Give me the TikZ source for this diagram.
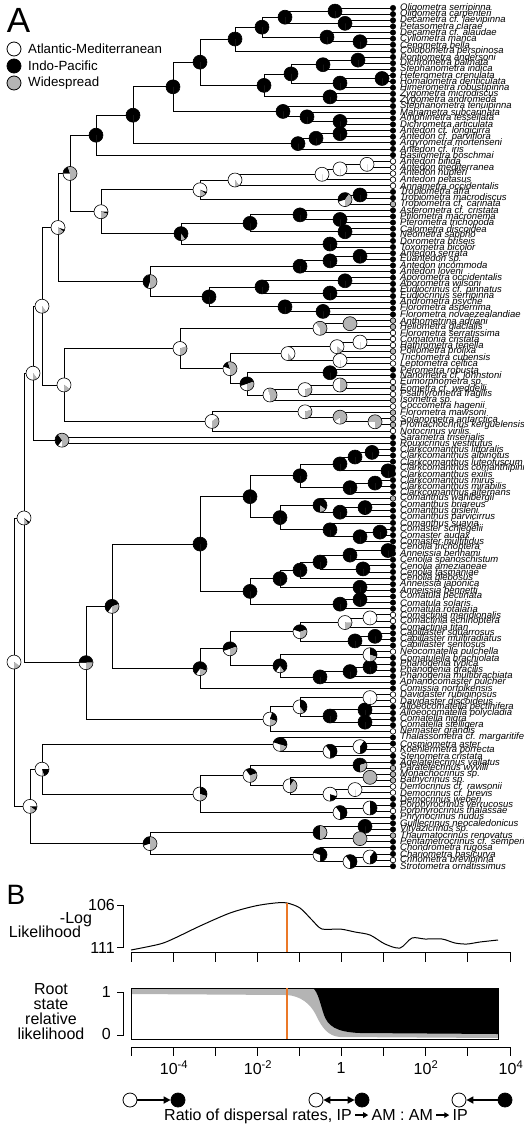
\documentclass[tikz,border=0pt]{standalone}
\usepackage{fontspec}
\setmainfont{Liberation Sans}
\usetikzlibrary{arrows.meta}

\definecolor{wscol}{RGB}{180,180,180}
\definecolor{orangeline}{RGB}{235,120,40}

% y of tip number #1 (fractional numbers give y between tips)
\pgfmathdeclarefunction{ty}{1}{\pgfmathparse{8+6.13*(#1-1)}}

% pie at a node: #1 node, #2 white %, #3 black %, rest grey
\newcommand{\nodepie}[3]{%
  \pgfmathsetmacro{\angA}{90+3.6*#2}%
  \pgfmathsetmacro{\angB}{\angA+3.6*#3}%
  \fill[white] (#1) -- ++(90:7) arc[start angle=90, end angle=\angA, radius=7] -- cycle;
  \fill[black] (#1) -- ++(\angA:7) arc[start angle=\angA, end angle=\angB, radius=7] -- cycle;
  \fill[wscol] (#1) -- ++(\angB:7) arc[start angle=\angB, end angle=450, radius=7] -- cycle;
  \draw[line width=0.6pt] (#1) circle[radius=7];
}
\newcommand{\rarr}{\tikz[baseline=-0.6ex]\draw[line width=1.4pt,-{Triangle[length=5pt,width=5.5pt]}] (0pt,0pt) -- (13pt,0pt);}

\tikzset{
  branch/.style={line width=0.8pt},
  tipdot/.style={circle, draw, line width=0.5pt, inner sep=0pt, minimum size=5.5pt},
  taxon/.style={anchor=west, inner sep=0pt, font=\fontsize{9.5}{9.5}\selectfont\itshape},
  legtext/.style={anchor=west, inner sep=0pt, font=\fontsize{13.3}{14}\selectfont},
  axtext/.style={inner sep=0pt, font=\fontsize{16}{15}\selectfont},
  statedot/.style={circle, draw, line width=0.8pt, inner sep=0pt, minimum size=14pt},
  bigarrow/.style={line width=1.6pt},
}

\begin{document}
\begin{tikzpicture}[x=1pt, y=-1pt]
\useasboundingbox (0,0) rectangle (523,1125);

% ---------- panel A: taxa
\foreach \sp [count=\i] in {Oligometra serripinna, Oligometra carpenteri, Decametra cf. laevipinna,
  Petasometra clarae, Decametra cf. alaudae, Cyllometra manca, Cenometra bella,
  Colobometra perspinosa, Pontiometra andersoni, Dichrometra palmata, Stephanometra indica,
  Heterometra crenulata, Homalometra denticulata, Himerometra robustipinna, Zygometra microdiscus,
  Zygometra andromeda, Stephanometra tenuipinna, Mariametra subcarinata, Amphimetra tessellata,
  Dichrometra articulata, Antedon cf. longicirra, Antedon cf. parviflora, Argyrometra mortenseni,
  Antedon cf. iris, Basilometra boschmai, Antedon bifida, Antedon mediterranea, Antedon hupferi,
  Antedon petasus, Annametra occidentalis, Tropiometra afra, Tropiometra macrodiscus,
  Tropiometra cf. carinata, Asterometra cf. cristata, Ptilometra macronema, Pterometra trichopoda,
  Calometra discoidea, Neometra sappho, Dorometra briseis, Toxometra bicolor, Antedon serrata,
  Euantedon sp., Antedon incommoda, Antedon loveni, Aporometra occidentalis, Aporometra wilsoni,
  Eudiocrinus cf. pinnatus, Eudiocrinus serripinna, Andrometra psyche, Florometra asperrima,
  Florometra novaezealandiae, Anthometrina adriani, Heliometra glacialis, Florometra serratissima,
  Comatonia cristata, Hathrometra tenella, Poliometra prolixa, Trichometra cubensis,
  Leptometra celtica, Perometra robusta, Nanometra cf. johnstoni, Eumorphometra sp.,
  Eometra cf. weddelli, Psathyrometra fragilis, Isometra sp., Coccometra hagenii,
  Florometra mawsoni, Solanometra antarctica, Promachocrinus kerguelensis, Notocrinus virilis,
  Sarametra triserialis, Rouxicrinus vestitutus, Clarkcomanthus littoralis,
  Clarkcomanthus albinotus, Clarkcomanthus luteofuscum, Clarkcomanthus comanthipinna,
  Clarkcomanthus exilis, Clarkcomanthus mirus, Clarkcomanthus mirabilis, Clarkcomanthus alternans,
  Comanthus wahlbergii, Comanthus briareus, Comanthus gisleni, Comanthus parvicirrus,
  Comanthus suavia, Comaster schlegelii, Comaster audax, Comaster multifidus, Cenolia trichoptera,
  Anneissia benhami, Cenolia spanoschistum, Cenolia amezianeae, Cenolia tasmaniae, Cenolia glebosus,
  Anneissia japonica, Anneissia bennetti, Comatula pectinata, Comatula solaris, Comatula rotalaria,
  Comactinia meridionalis, Comactinia echinoptera, Comactinia titan, Capillaster squarrosus,
  Capillaster multiradiatus, Capillaster sentosus, Neocomatella pulchella, Comatulella brachiolata,
  Phanogenia typica, Phanogenia gracilis, Phanogenia multibrachiata, Aphanocomaster pulcher,
  Comissia norfolkensis, Davidaster rubiginosus, Davidaster discoideus, Alloeocomatella pectinifera,
  Alloeocomatella polycladia, Comatella nigra, Comatella stelligera, Nemaster grandis,
  Thalassometra cf. margaritifera, Cosmiometra aster, Koehlermetra porrecta, Stenometra cristata,
  Adelatelecrinus vallatus, Paratelecrinus wyvilli, Monachocrinus sp., Bathycrinus sp.,
  Democrinus cf. rawsonii, Democrinus cf. brevis, Democrinus weberi, Porphyrocrinus verrucosus,
  Porphyrocrinus thalassae, Phrynocrinus nudus, Guillecrinus neocaledonicus, Vityazicrinus sp.,
  Thaumatocrinus renovatus, Pentametrocrinus cf. semperi, Chondrometra rugosa,
  Chariometra basicurva, Crinometra brevipinna, Strotometra ornatissimus}
{
  \coordinate (t\i) at (393,{ty(\i)});
  \node[taxon] (lab\i) at (400,{ty(\i)}) {\sp};
}

% ---------- internal nodes (x, tip number)
\foreach \n/\x/\k in {a1/335/1.5, a3/345/3.5, a2/285/2.5, a5/360/6.5, a4/327/5.75, a6/262/4.125,
  a7/235/6.06, b1/358/9.5, b2/382/12.5, b3/323/10.25, b5/340/13.25, b4/291/11.75,
  c1/330/15.5, b6/264/13.625, X/200/9.84, c2/340/19.5, c3/307/18.75, c4/283/17.875,
  Y/173/13.86, d1/340/21.5, d2/316/22.25, d3/298/23.125, Z/133/18.49, top/96/21.75,
  f1/367/26.5, f2/340/27.25, f3/322/28.125, f4/235/29.06, g1/360/31.5, g2/345/32.25,
  h/200/30.656, i1/340/35.5, i2/300/34.75, i3/345/37.5, i4/250/36.125, j1/330/39.5,
  i5/181/37.81, k/101/34.234,
  l1/360/41.5, l2/330/42.25, l3/300/43.125, m1/345/45.5, m2/330/47.5, m3/262/46.5,
  nn1/323/50.5, nn2/285/49.75, o1/209/48.125, o2/150/45.625,
  p1/350/52.5, p2/320/53.25, q1/360/55.5, q2/337/56.25, q3/340/58.5, q4/288/57.375,
  r1/330/60.5, s1/340/62.5, s2/305/63.25, s3/270/64.125, r2/247/62.31, q5/230/59.84,
  p3/180/56.545, u1/375/68.5, u2/340/67.75, u3/305/66.875, u4/212/68.44, w/62/71.5,
  B1/70/27.99, B2/58/36.81, B4/64/62.49, B3/42/49.65, B5/33/60.575,
  x1/372/73.5, x3/355/74.25, x2/388/76.5, x4/340/75.375, x5/375/78.5, x6/350/79.25,
  x7/300/77.31, y1/365/82.5, y2/340/83.25, y3/320/82.125, y4/380/86.5, y5/360/87.25,
  y6/330/86.125, y7/280/84.125, y8/250/80.72, z1/388/89.5, z2/363/92.5, z3/350/90.25,
  z4/320/91.375, z4b/300/92.69, z5/360/95.5, cc1/360/97.5, cc2/340/98.25, z6/280/94.09,
  z7/250/96.17, y9/200/88.445,
  aa1/370/100.5, aa2/345/101.25, ab1/375/103.5, ab2/355/104.25, ab3/300/102.75,
  ac1/370/106.5, ad1/370/108.5, ad2/350/109.25, ad3/320/110.125, ae/280/108.31,
  af/230/105.53, ag/200/108.77, ah1/370/113.5, ah2/365/115.5, ah3/365/117.5, ah4/330/116.5,
  ah5/300/115, ah6/270/117, aj2/112/98.61, aj/86/107.8,
  ak1/360/121.5, ak2/330/122.25, ak3/280/121.125, al5/360/124.5, al3/370/126.5,
  al1/355/128.5, al2/330/129.25, al4/290/127.875, al6/250/126.19, am1/370/131.5,
  am2/340/132.25, L1/200/129.22, an1/365/134.5, an2/360/136.5, an3/320/135.5,
  ao1/370/139.5, ao2/350/140.25, ao3/320/139.125, L2/150/137.31, L5/42/125.17,
  L6/30/131.24, A1/24/84.19, root/14/107.7}
  \coordinate (\n) at (\x,{ty(\k)});

% branches
\foreach \p/\c in {a1/t1, a1/t2, a3/t3, a3/t4, a2/a1, a2/a3, a5/t6, a5/t7, a4/t5, a4/a5,
  a6/a2, a6/a4, a7/a6, a7/t8, b1/t9, b1/t10, b2/t12, b2/t13, b3/b1, b3/t11, b5/b2, b5/t14,
  b4/b3, b4/b5, c1/t15, c1/t16, b6/b4, b6/c1, X/a7, X/b6, c2/t19, c2/t20, c3/t18, c3/c2,
  c4/t17, c4/c3, Y/X, Y/c4, d1/t21, d1/t22, d2/d1, d2/t23, d3/d2, d3/t24, Z/Y, Z/d3,
  top/Z, top/t25,
  f1/t26, f1/t27, f2/f1, f2/t28, f3/f2, f3/t29, f4/f3, f4/t30, g1/t31, g1/t32, g2/g1, g2/t33,
  h/f4, h/g2, i1/t35, i1/t36, i2/t34, i2/i1, i3/t37, i3/t38, i4/i2, i4/i3, j1/t39, j1/t40,
  i5/i4, i5/j1, k/h, k/i5,
  l1/t41, l1/t42, l2/l1, l2/t43, l3/l2, l3/t44, m1/t45, m1/t46, m2/t47, m2/t48, m3/m1, m3/m2,
  nn1/t50, nn1/t51, nn2/t49, nn2/nn1, o1/m3, o1/nn2, o2/l3, o2/o1,
  p1/t52, p1/t53, p2/p1, p2/t54, q1/t55, q1/t56, q2/q1, q2/t57, q3/t58, q3/t59, q4/q2, q4/q3,
  r1/t60, r1/t61, s1/t62, s1/t63, s2/s1, s2/t64, s3/s2, s3/t65, r2/r1, r2/s3, q5/q4, q5/r2,
  p3/p2, p3/q5, u1/t68, u1/t69, u2/t67, u2/u1, u3/t66, u3/u2, u4/u3, u4/t70, w/t71, w/t72,
  B1/top, B1/k, B2/B1, B2/o2, B4/p3, B4/u4, B3/B2, B3/B4, B5/B3, B5/w,
  x1/t73, x1/t74, x3/x1, x3/t75, x2/t76, x2/t77, x4/x3, x4/x2, x5/t78, x5/t79, x6/x5, x6/t80,
  x7/x4, x7/x6, y1/t82, y1/t83, y2/y1, y2/t84, y3/t81, y3/y2, y4/t86, y4/t87, y5/y4, y5/t88,
  y6/t85, y6/y5, y7/y3, y7/y6, y8/x7, y8/y7, z1/t89, z1/t90, z2/t92, z2/t93, z3/z1, z3/t91,
  z4/z3, z4/z2, z4b/z4, z4b/t94, z5/t95, z5/t96, cc1/t97, cc1/t98, cc2/cc1, cc2/t99,
  z6/z4b, z6/z5, z7/z6, z7/cc2, y9/y8, y9/z7,
  aa1/t100, aa1/t101, aa2/aa1, aa2/t102, ab1/t103, ab1/t104, ab2/ab1, ab2/t105, ab3/aa2, ab3/ab2,
  ac1/t106, ac1/t107, ad1/t108, ad1/t109, ad2/ad1, ad2/t110, ad3/ad2, ad3/t111, ae/ac1, ae/ad3,
  af/ab3, af/ae, ag/af, ag/t112, ah1/t113, ah1/t114, ah2/t115, ah2/t116, ah3/t117, ah3/t118,
  ah4/ah2, ah4/ah3, ah5/ah1, ah5/ah4, ah6/ah5, ah6/t119, aj2/y9, aj2/ag, aj/aj2, aj/ah6,
  ak1/t121, ak1/t122, ak2/ak1, ak2/t123, ak3/t120, ak3/ak2,
  al5/t124, al5/t125, al3/t126, al3/t127, al1/t128, al1/t129, al2/al1, al2/t130, al4/al3, al4/al2,
  al6/al5, al6/al4, am1/t131, am1/t132, am2/am1, am2/t133, L1/al6, L1/am2,
  an1/t134, an1/t135, an2/t136, an2/t137, an3/an1, an3/an2, ao1/t139, ao1/t140, ao2/ao1, ao2/t141,
  ao3/t138, ao3/ao2, L2/an3, L2/ao3, L5/ak3, L5/L1, L6/L5, L6/L2, A1/B5, A1/aj, root/A1, root/L6}
  \draw[branch] (\p) |- (\c);

% pies: node/white/black (rest grey)
\foreach \n in {a1,a2,a3,a4,a5,a6,a7,b1,b2,b3,b4,b5,b6,X,c1,c2,c3,c4,d1,d2,d3,Y,Z,top,
  g1,i1,i2,i3,i4,j1,l1,l2,l3,m1,m2,m3,nn1,nn2,o1,r1,x1,x2,x3,x4,x5,x6,x7,y1,y2,y4,y5,y6,y7,y8,
  z1,z2,z3,z4,z4b,z5,z6,z7,cc1,cc2,y9,ab1,ab2,ad1,ad2,ad3,ah2,ah3,ah4,an1}
  \nodepie{\n}{0}{100};
\foreach \n/\w/\b in {f1/100/0, f2/100/0, f3/100/0, f4/90/0, g2/20/40, h/80/5, i5/0/90, k/75/5,
  o2/5/45, p1/0/0, p2/40/0, q1/100/0, q2/85/0, q3/100/0, q4/90/0, s1/50/0, s2/70/0, s3/45/0,
  r2/20/50, q5/30/15, p3/70/0, u1/25/0, u2/15/0, u3/70/0, u4/65/0, w/10/30,
  B1/25/20, B2/80/5, B3/90/0, B4/85/0, B5/90/0, y3/0/85,
  aa1/100/0, aa2/75/0, ab3/30/40, ac1/50/30, ae/10/80, af/20/50, ag/10/70, ah1/100/0,
  ah5/50/40, ah6/55/25, aj2/10/60, aj/25/50, ak1/60/40, ak2/40/60, ak3/30/50, al5/0/70,
  al3/0/0, al1/100/0, al2/80/20, al4/50/10, al6/40/30, am1/50/50, am2/40/60, L1/50/30,
  an2/0/0, an3/0/50, ao1/60/40, ao2/40/60, ao3/30/70, L2/20/30, L5/75/20, L6/75/10,
  A1/85/5, root/85/0}
  \nodepie{\n}{\w}{\b};

% tip states
\foreach \i in {1,...,141} \node[tipdot, fill=black] at (t\i) {};
\foreach \i in {26,27,28,29,30,54,55,56,58,59,62,64,66,70,100,101,106,113,114,119,122,128,129,132,140}
  \node[tipdot, fill=white] at (t\i) {};
\foreach \i in {33,52,53,57,63,65,67,68,69,81,125,126,127,136}
  \node[tipdot, fill=wscol] at (t\i) {};

% legend
\node[inner sep=0pt, font=\fontsize{35}{35}\selectfont] (labA) at (18.5,20) {A};
\node[statedot, fill=white] (legAM) at (14,49) {};
\node[statedot, fill=black] (legIP) at (14,66) {};
\node[statedot, fill=wscol] (legWS) at (14,83) {};
\node[legtext] at (28,49) {Atlantic-Mediterranean};
\node[legtext] at (28,66) {Indo-Pacific};
\node[legtext] at (28,83) {Widespread};

% ---------- panel B
\node[inner sep=0pt, font=\fontsize{28}{28}\selectfont] (labB) at (16,895) {B};
\node[axtext] at (76,920) {-Log};
\node[axtext] at (45,932) {Likelihood};
\node[axtext, anchor=east] at (115,905) {106};
\node[axtext, anchor=east] at (115,948) {111};
\draw[line width=0.9pt] (117,905) -- (123,905) -- (123,947) -- (117,947);

% likelihood curve
\draw[line width=1pt, line join=round] plot[smooth, tension=0.5] coordinates {
  (131,950) (160,944) (175,938) (200,926) (230,913) (255,906) (275,903) (287,903)
  (300,908) (312,920) (322,929) (340,929) (355,932) (370,935) (385,944) (400,948)
  (412,938) (425,939) (442,939) (455,943) (467,944) (480,942) (498,940)};
\draw[orangeline, line width=1.2pt] (287,903) -- (287,952);
\draw[line width=1pt] (131,952) -- (510,952);
\foreach \x in {131,173,215,257,299,341,383,425,467,510}
  \draw[line width=1pt] (\x,952) -- (\x,962);

% root state panel
\fill[wscol] (131,988) -- (498,988) -- (498,1038) -- (340,1037)
  .. controls (328,1036) and (322,1028) .. (316,1015)
  .. controls (310,1003) and (300,996) .. (287,995) -- (131,994) -- cycle;
\fill[black] (313,988) -- (498,988) -- (498,1034) -- (360,1033)
  .. controls (336,1032) and (328,1026) .. (324,1015)
  .. controls (320,1003) and (318,992) .. (313,988) -- cycle;
\draw[line width=0.8pt] (131,988) rectangle (498,1039);
\draw[orangeline, line width=1.2pt] (287,988) -- (287,1039);
\node[axtext, align=center] at (51,1012) {Root\\state\\relative\\likelihood};
\node[axtext, anchor=east] at (111,992) {1};
\node[axtext, anchor=east] at (111,1034) {0};
\draw[line width=0.9pt] (117,992) -- (123,992) -- (123,1035) -- (117,1035);
\draw[line width=1pt] (131,1047) -- (510,1047);
\foreach \x in {131,173,215,257,299,341,383,425,467,510}
  \draw[line width=1pt] (\x,1047) -- (\x,1056);
\node[axtext] at (174,1068) {10\textsuperscript{-4}};
\node[axtext] at (258,1068) {10\textsuperscript{-2}};
\node[axtext] at (341,1068) {1};
\node[axtext] at (426,1068) {10\textsuperscript{2}};
\node[axtext] at (511,1068) {10\textsuperscript{4}};

% dispersal direction keys
\node[statedot, fill=white] (k1a) at (130,1100) {};
\node[statedot, fill=black] (k1b) at (178,1100) {};
\node[statedot, fill=white] (k2a) at (316,1100) {};
\node[statedot, fill=black] (k2b) at (362,1100) {};
\node[statedot, fill=white] (k3a) at (459,1100) {};
\node[statedot, fill=black] (k3b) at (505,1100) {};
\draw[bigarrow, -{Triangle[length=7pt,width=7pt]}] (k1a) -- (k1b);
\draw[bigarrow, {Triangle[length=7pt,width=7pt]}-{Triangle[length=7pt,width=7pt]}] (k2a) -- (k2b);
\draw[bigarrow, -{Triangle[length=7pt,width=7pt]}] (k3b) -- (k3a);
\node[axtext] at (316,1116) {Ratio of dispersal rates, IP\,\rarr\,AM : AM\,\rarr\,IP};
\end{tikzpicture}
\end{document}
